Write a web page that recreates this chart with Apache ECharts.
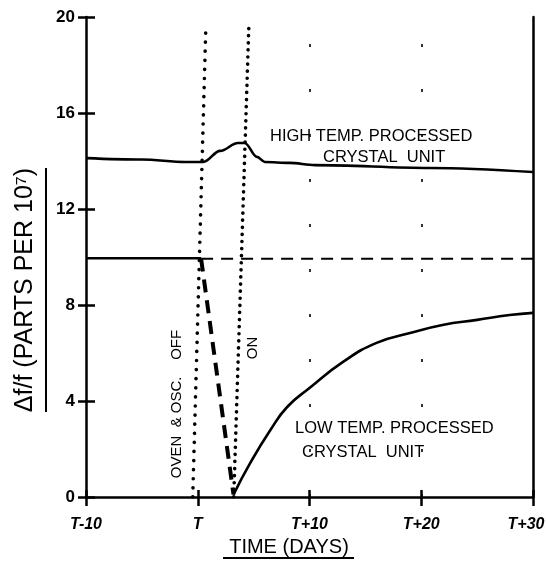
<!DOCTYPE html>
<html>
<head>
<meta charset="utf-8">
<script src="https://cdn.jsdelivr.net/npm/echarts@6/dist/echarts.min.js"></script>
<style>
html,body{margin:0;padding:0;background:#fff;}
#chart{width:546px;height:564px;}
</style>
</head>
<body>
<div id="chart"></div>
<script>
// ---- data ----
const xTickValues = [-10, 0, 10, 20, 30];
const xTickLabels = ['T-10', 'T', 'T+10', 'T+20', 'T+30'];
const yTickValues = [0, 4, 8, 12, 16, 20];

// High temp. processed crystal unit (days relative to T, parts per 10^7)
const highDays = [-10, -5, -1.1, 0.5, 2.0, 3.6, 4.2, 5.3, 6.0, 8.2, 10.5, 20.8, 30];
const highVals = [14.12, 14.06, 13.96, 13.96, 14.42, 14.75, 14.75, 14.17, 13.96, 13.92, 13.83, 13.71, 13.54];

// Low temp. processed crystal unit
const lowBaseDays = [-10, 0.3];
const lowBaseVals = [9.95, 9.95];
const lowRefDays = [0.3, 30];
const lowRefVals = [9.93, 9.93];
const lowDropDays = [0.3, 3.2];
const lowDropVals = [9.93, 0.1];
const lowRecDays = [3.2, 4.7, 6.5, 8.0, 10.0, 13.0, 16.0, 19.0, 21.9, 25.0, 27.9, 30];
const lowRecVals = [0.1, 1.42, 2.79, 3.75, 4.54, 5.63, 6.42, 6.83, 7.17, 7.38, 7.58, 7.67];

// Oven off / on markers (hand-drawn, slightly slanted)
const ovenOffDays = [-0.45, 0.73];
const ovenOffVals = [0, 19.7];
const ovenOnDays = [3.22, 4.58];
const ovenOnVals = [0, 19.75];

// faint guide marks
const guideDays = [10, 20];

const zip = (a, b) => a.map((v, i) => [v, b[i]]);

const chart = echarts.init(document.getElementById('chart'), null, {renderer: 'canvas'});
const FONT = 'Liberation Sans';
const black = '#000';

const baseX = {type: 'value', min: -10, max: 30, interval: 10, position: 'bottom'};
const baseY = {type: 'value', min: 0, max: 20, interval: 4};

const option = {
  backgroundColor: '#fff',
  animation: false,
  grid: {left: 86, right: 13, top: 17, bottom: 67, containLabel: false, outerBoundsMode: 'none'},
  xAxis: [
    Object.assign({}, baseX, {
      axisLine: {show: true, onZero: false, lineStyle: {color: black, width: 2.5}},
      axisTick: {show: true, inside: false, length: 9, lineStyle: {color: black, width: 2.5}},
      axisLabel: {
        margin: 20, color: black, fontSize: 16, fontFamily: FONT, fontStyle: 'italic', fontWeight: 'bold',
        formatter: v => {
          const i = xTickValues.indexOf(v);
          if (i < 0) return '';
          return i === xTickValues.length - 1 ? '{last|' + xTickLabels[i] + '}' : xTickLabels[i];
        },
        rich: {last: {padding: [0, 14, 0, 0], color: black, fontSize: 16, fontFamily: FONT, fontStyle: 'italic', fontWeight: 'bold'}}
      },
      splitLine: {show: false}
    }),
    Object.assign({}, baseX, {
      axisLine: {show: false, onZero: false},
      axisTick: {show: true, inside: true, length: 7, lineStyle: {color: black, width: 2.5}},
      axisLabel: {show: false},
      splitLine: {show: false}
    })
  ],
  yAxis: [
    Object.assign({}, baseY, {
      position: 'left',
      axisLine: {show: true, onZero: false, lineStyle: {color: black, width: 2.5}},
      axisTick: {show: true, inside: false, length: 8, lineStyle: {color: black, width: 2.5}},
      axisLabel: {
        margin: 11, color: black, fontSize: 17, fontFamily: FONT, fontWeight: 'bold',
        formatter: v => (yTickValues.indexOf(v) >= 0 ? String(v) : '')
      },
      splitLine: {show: false}
    }),
    Object.assign({}, baseY, {
      position: 'left',
      axisLine: {show: false, onZero: false},
      axisTick: {show: true, inside: true, length: 9, lineStyle: {color: black, width: 2.5}},
      axisLabel: {show: false},
      splitLine: {show: false}
    }),
    Object.assign({}, baseY, {
      position: 'right',
      axisLine: {show: true, onZero: false, lineStyle: {color: black, width: 2.5}},
      axisTick: {show: false},
      axisLabel: {show: false},
      splitLine: {show: false}
    })
  ],
  series: [
    {
      name: 'High temp. processed', type: 'line', data: zip(highDays, highVals),
      smooth: 0.35, smoothMonotone: 'x', symbol: 'none',
      lineStyle: {color: black, width: 2.6},
      markLine: {
        silent: true, symbol: 'none', label: {show: false},
        lineStyle: {color: black, width: 1.6, type: [3, 42]},
        data: guideDays.map(d => ({xAxis: d}))
      }
    },
    {
      name: 'Low temp. baseline', type: 'line', data: zip(lowBaseDays, lowBaseVals),
      symbol: 'none', lineStyle: {color: black, width: 2.6}
    },
    {
      name: 'Low temp. reference', type: 'line', data: zip(lowRefDays, lowRefVals),
      symbol: 'none', lineStyle: {color: black, width: 2, type: [12, 8]}
    },
    {
      name: 'Low temp. drop', type: 'line', data: zip(lowDropDays, lowDropVals),
      symbol: 'none', lineStyle: {color: black, width: 4, type: [13, 8]}
    },
    {
      name: 'Low temp. recovery', type: 'line', data: zip(lowRecDays, lowRecVals),
      smooth: 0.5, symbol: 'none',
      lineStyle: {color: black, width: 2.6}
    },
    {
      name: 'Oven off', type: 'line', data: zip(ovenOffDays, ovenOffVals),
      symbol: 'none', lineStyle: {color: black, width: 3.6, type: [0.1, 9], cap: 'round'}
    },
    {
      name: 'Oven on', type: 'line', data: zip(ovenOnDays, ovenOnVals),
      symbol: 'none', lineStyle: {color: black, width: 3.6, type: [0.1, 7], cap: 'round'}
    }
  ],
  graphic: [
    {type: 'text', x: 25, y: 290, rotation: Math.PI / 2,
     style: {text: 'Δf/f (PARTS PER 10⁷)', font: '25px "Liberation Sans"', fill: black, textAlign: 'center', textVerticalAlign: 'middle'}},
    {type: 'line', shape: {x1: 46, y1: 168, x2: 46, y2: 412}, style: {stroke: black, lineWidth: 2}},
    {type: 'text', x: 289, y: 547,
     style: {text: 'TIME (DAYS)', font: '20px "Liberation Sans"', fill: black, textAlign: 'center', textVerticalAlign: 'middle'}},
    {type: 'line', shape: {x1: 223, y1: 558, x2: 354, y2: 558}, style: {stroke: black, lineWidth: 2}},
    {type: 'text', x: 270, y: 136,
     style: {text: 'HIGH TEMP. PROCESSED', font: '16.5px "Liberation Sans"', fill: black, textAlign: 'left', textVerticalAlign: 'middle'}},
    {type: 'text', x: 323, y: 157,
     style: {text: 'CRYSTAL  UNIT', font: '16.5px "Liberation Sans"', fill: black, textAlign: 'left', textVerticalAlign: 'middle'}},
    {type: 'text', x: 295, y: 428,
     style: {text: 'LOW TEMP. PROCESSED', font: '16.5px "Liberation Sans"', fill: black, textAlign: 'left', textVerticalAlign: 'middle'}},
    {type: 'text', x: 302, y: 452,
     style: {text: 'CRYSTAL  UNIT', font: '16.5px "Liberation Sans"', fill: black, textAlign: 'left', textVerticalAlign: 'middle'}},
    {type: 'text', x: 177, y: 404, rotation: Math.PI / 2,
     style: {text: 'OVEN  & OSC.    OFF', font: '15px "Liberation Sans"', fill: black, textAlign: 'center', textVerticalAlign: 'middle'}},
    {type: 'text', x: 253, y: 348, rotation: Math.PI / 2,
     style: {text: 'ON', font: '15px "Liberation Sans"', fill: black, textAlign: 'center', textVerticalAlign: 'middle'}}
  ]
};
chart.setOption(option);
</script>
</body>
</html>
